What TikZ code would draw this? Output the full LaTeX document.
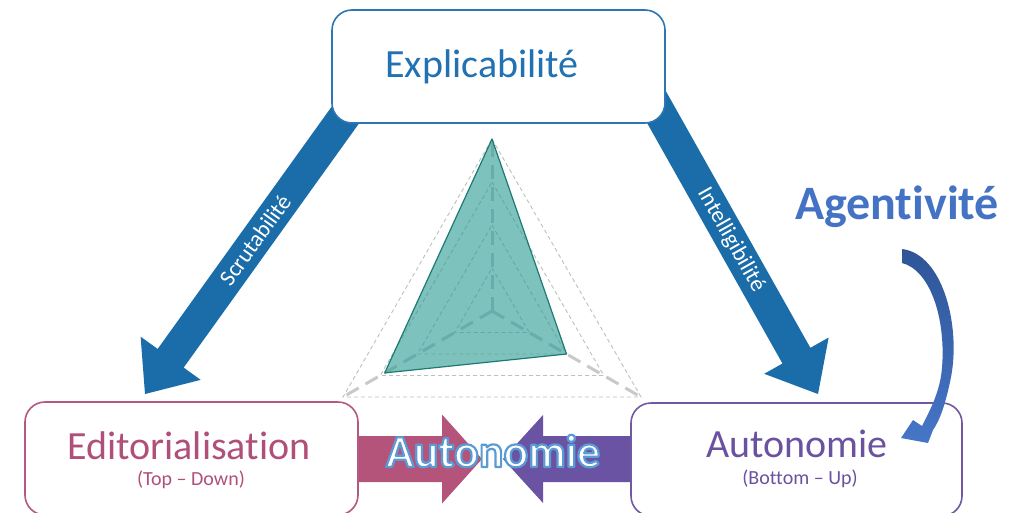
\documentclass[tikz,border=0pt]{standalone}
\usepackage{fontspec}
\setmainfont{Carlito}[Ligatures={NoCommon}]
\usetikzlibrary{calc}
\definecolor{arrowblue}{HTML}{1B6DAA}
\definecolor{topblue}{HTML}{2E75B6}
\definecolor{toptext}{HTML}{2171B3}
\definecolor{pinkbox}{HTML}{B5577F}
\definecolor{pinktext}{HTML}{B0507A}
\definecolor{pinkarrow}{HTML}{B4547A}
\definecolor{purplebox}{HTML}{7058A3}
\definecolor{purpletext}{HTML}{6A52A0}
\definecolor{purplearrow}{HTML}{6B53A3}
\definecolor{agentc}{HTML}{4472C4}
\definecolor{curvedark}{HTML}{2F5597}
\definecolor{curvelight}{HTML}{4676C8}
\definecolor{gridgray}{HTML}{BFBFBF}
\definecolor{radarfill}{HTML}{2E9C96}
\definecolor{radarline}{HTML}{1D7A72}
% outlined text: white fill, blue stroke (text render mode 2)
\newcommand{\outlinedword}[1]{{\color{white}\special{pdf:literal direct 2 Tr 2.2 w 1 j 0.357 0.608 0.835 RG}#1\special{pdf:literal direct 0 Tr 1 w 0 j}}}
% #1 colour, #2 start coordinate, #3 tip coordinate, #4 half shaft, #5 half head, #6 head length
\newcommand{\fatarrow}[6]{%
  \coordinate (#2-b) at ($(#3)!#6!(#2)$);
  \fill[#1] ($(#2)!#4!90:(#3)$) -- ($(#2-b)!#4!90:(#3)$) -- ($(#2-b)!#5!90:(#3)$)
    -- (#3) -- ($(#2-b)!#5!-90:(#3)$) -- ($(#2-b)!#4!-90:(#3)$) -- ($(#2)!#4!-90:(#3)$) -- cycle;}
\begin{document}
\begin{tikzpicture}[x=1pt,y=-1pt,
  box/.style={draw, line width=1.6pt, rounded corners=20pt, fill=white, inner sep=0pt},
  lbl/.style={font=\fontsize{40}{44}\selectfont, inner sep=0pt, anchor=base},
  sublbl/.style={font=\fontsize{20}{22}\selectfont, inner sep=0pt, anchor=base},
  arrlbl/.style={font=\fontsize{23}{25}\selectfont, text=white, inner sep=0pt},
  griddash/.style={draw=gridgray, line width=0.9pt, dash pattern=on 4pt off 3pt},
  axisdash/.style={draw=gridgray!85, line width=3pt, dash pattern=on 14pt off 8pt}]
\useasboundingbox (0,0) rectangle (1028,512);
\clip (0,0) rectangle (1028,512);
% diagonal block arrows
\coordinate (ls) at (359,96);
\coordinate (lt) at (145,394);
\coordinate (rs) at (648,92);
\coordinate (rt) at (818,394);
\fatarrow{arrowblue}{ls}{lt}{16pt}{37pt}{44pt}
\fatarrow{arrowblue}{rs}{rt}{16pt}{37pt}{44pt}
% top box
\node[box, draw=topblue, minimum width=333pt, minimum height=113pt] (topbox) at (498.5,66.5) {};
\node[lbl, text=toptext] (expl) at (482,77) {Explicabilité};
% arrow labels
\node[arrlbl, rotate=54.3] (scrut) at (255,240) {Scrutabilité};
\node[arrlbl, rotate=-60.5] (intel) at (731,240) {Intelligibilité};
% middle arrows
\coordinate (ps) at (340,459);
\coordinate (pt) at (482,459);
\coordinate (qs) at (650,459);
\coordinate (qt) at (503,459);
\fatarrow{pinkarrow}{ps}{pt}{23pt}{44.5pt}{40pt}
\fatarrow{purplearrow}{qs}{qt}{23pt}{44pt}{40pt}
% bottom boxes
\node[box, draw=pinkbox, minimum width=333pt, minimum height=113pt] (leftbox) at (191.5,458.5) {};
\node[box, draw=purplebox, minimum width=331pt, minimum height=113pt] (rightbox) at (796.5,459.5) {};
\node[lbl, text=pinktext] (edit) at (189,459) {Editorialisation};
\node[sublbl, text=pinktext] (topdown) at (191,485) {(Top – Down)};
\node[lbl, text=purpletext] (auto) at (797,457) {Autonomie};
\node[sublbl, text=purpletext] (bottomup) at (800,484) {(Bottom – Up)};
% middle word
\node[anchor=base, inner sep=0pt, font=\bfseries\fontsize{46}{50}\selectfont] (mid) at (493,467) {\outlinedword{Autonomie}};
% radar chart
\coordinate (c) at (492,311);
\coordinate (vt) at (492,139);
\coordinate (vl) at (343,397);
\coordinate (vr) at (641,397);
\foreach \k in {0.25,0.5,0.75,1}
  \draw[griddash] ($(c)!\k!(vt)$) -- ($(c)!\k!(vr)$) -- ($(c)!\k!(vl)$) -- cycle;
\draw[axisdash] (c) -- (vt);
\draw[axisdash] (c) -- (vl);
\draw[axisdash] (c) -- (vr);
\fill[radarfill, fill opacity=0.62] ($(c)!1!(vt)$) -- ($(c)!0.5!(vr)$) -- ($(c)!0.72!(vl)$) -- cycle;
\draw[radarline, line width=1.2pt, line join=round] ($(c)!1!(vt)$) -- ($(c)!0.5!(vr)$) -- ($(c)!0.72!(vl)$) -- cycle;
% agentivite
\node[anchor=base, inner sep=0pt, font=\bfseries\fontsize{48}{52}\selectfont, text=agentc] (agent) at (897,219) {Agentivité};
\shade[top color=curvedark, bottom color=curvelight]
  (902,249) .. controls (944,254) and (962,330) .. (950,382)
  .. controls (945,405) and (940,420) .. (933,430)
  -- (928,443) -- (901,438) -- (913,420) -- (922,426)
  .. controls (930,410) and (940,392) .. (942,368)
  .. controls (946,318) and (930,270) .. (902,263) -- cycle;
\end{tikzpicture}
\end{document}
